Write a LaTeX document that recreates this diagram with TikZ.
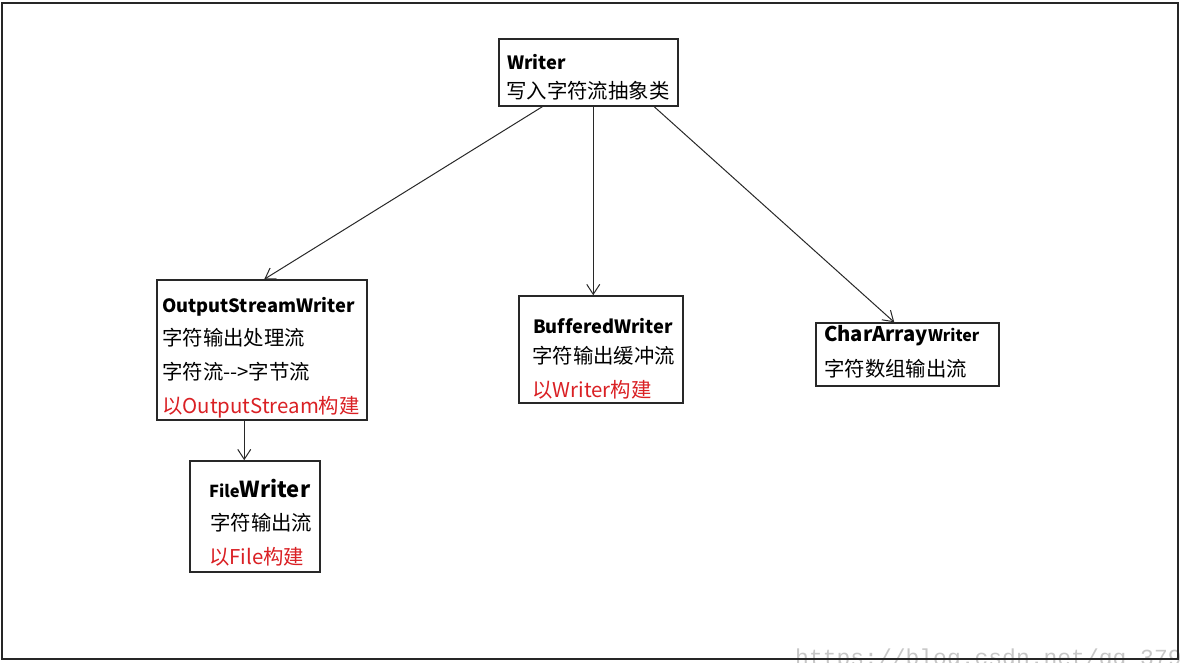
\documentclass[tikz,border=0pt]{standalone}
\usepackage{fontspec}
\setmainfont{Noto Sans CJK SC}[Ligatures={NoCommon}]
\newfontfamily\wmfont{Liberation Mono}
\usetikzlibrary{arrows.meta}
\definecolor{redtxt}{RGB}{218,32,36}
\definecolor{edge}{RGB}{40,40,40}
\tikzset{
  box/.style={draw=edge,line width=1.5pt,fill=white,inner sep=0pt,rectangle},
  txt/.style={anchor=west,inner sep=0pt,font=\fontsize{20.4}{23}\selectfont},
  ttl/.style={txt,font=\fontsize{18.3}{22}\selectfont\bfseries},
  arr/.style={draw=edge,line width=1pt,-{Straight Barb[length=10pt,width=13pt,line width=1pt]}},
}
\begin{document}
\begin{tikzpicture}[x=1pt,y=-1pt]
\useasboundingbox (0,0) rectangle (1182,662);
\begin{scope}
\clip (0,0) rectangle (1182,662);
\node[anchor=base west,inner sep=0pt,text=black!22,font=\wmfont\fontsize{23}{23}\selectfont] (wm) at (795,665) {https://blog.csdn.net/qq\_379};
\end{scope}
\draw[line width=2pt,draw=black!85] (2,3) rectangle (1178,659);

% boxes
\node[box,minimum width=179pt,minimum height=67pt] (writer) at (588.5,72.5) {};
\node[box,minimum width=210pt,minimum height=140pt] (osw) at (262,350) {};
\node[box,minimum width=130pt,minimum height=111pt] (fw) at (255,516.5) {};
\node[box,minimum width=164pt,minimum height=107pt] (bw) at (601,349.5) {};
\node[box,minimum width=183pt,minimum height=63pt] (caw) at (907.5,354.5) {};

% texts
\node[ttl] (writer1) at (507,62) {Writer};
\node[txt] (writer2) at (506,91) {写入字符流抽象类};

\node[ttl] (osw1) at (162,307) {OutputStreamWriter};
\node[txt] (osw2) at (162,338) {字符输出处理流};
\node[txt] (osw3) at (162,372) {字符流-{}-{}>字节流};
\node[txt,text=redtxt] (osw4) at (162,407) {以OutputStream构建};

\node[ttl] (fw1) at (209,489) {{\fontsize{16.5}{18}\selectfont File}{\fontsize{22}{26}\selectfont Writer}};
\node[txt] (fw2) at (210,523) {字符输出流};
\node[txt,text=redtxt] (fw3) at (209,557) {以File构建};

\node[ttl] (bw1) at (533,326) {BufferedWriter};
\node[txt] (bw2) at (532,356) {字符输出缓冲流};
\node[txt,text=redtxt] (bw3) at (532,390) {以Writer构建};

\node[ttl] (caw1) at (824,336) {{\fontsize{20.2}{24}\selectfont CharArray}{\fontsize{16}{20}\selectfont Writer}};
\node[txt] (caw2) at (824,369) {字符数组输出流};

% arrows
\draw[arr] ([xshift=44pt]writer.south west) -- ([xshift=108pt]osw.north west);
\draw[arr] ([xshift=95pt]writer.south west) -- ([xshift=75pt]bw.north west);
\draw[arr] ([xshift=156pt]writer.south west) -- ([xshift=79pt]caw.north west);
\draw[arr] ([xshift=88pt]osw.south west) -- ([xshift=55pt]fw.north west);
\end{tikzpicture}
\end{document}
